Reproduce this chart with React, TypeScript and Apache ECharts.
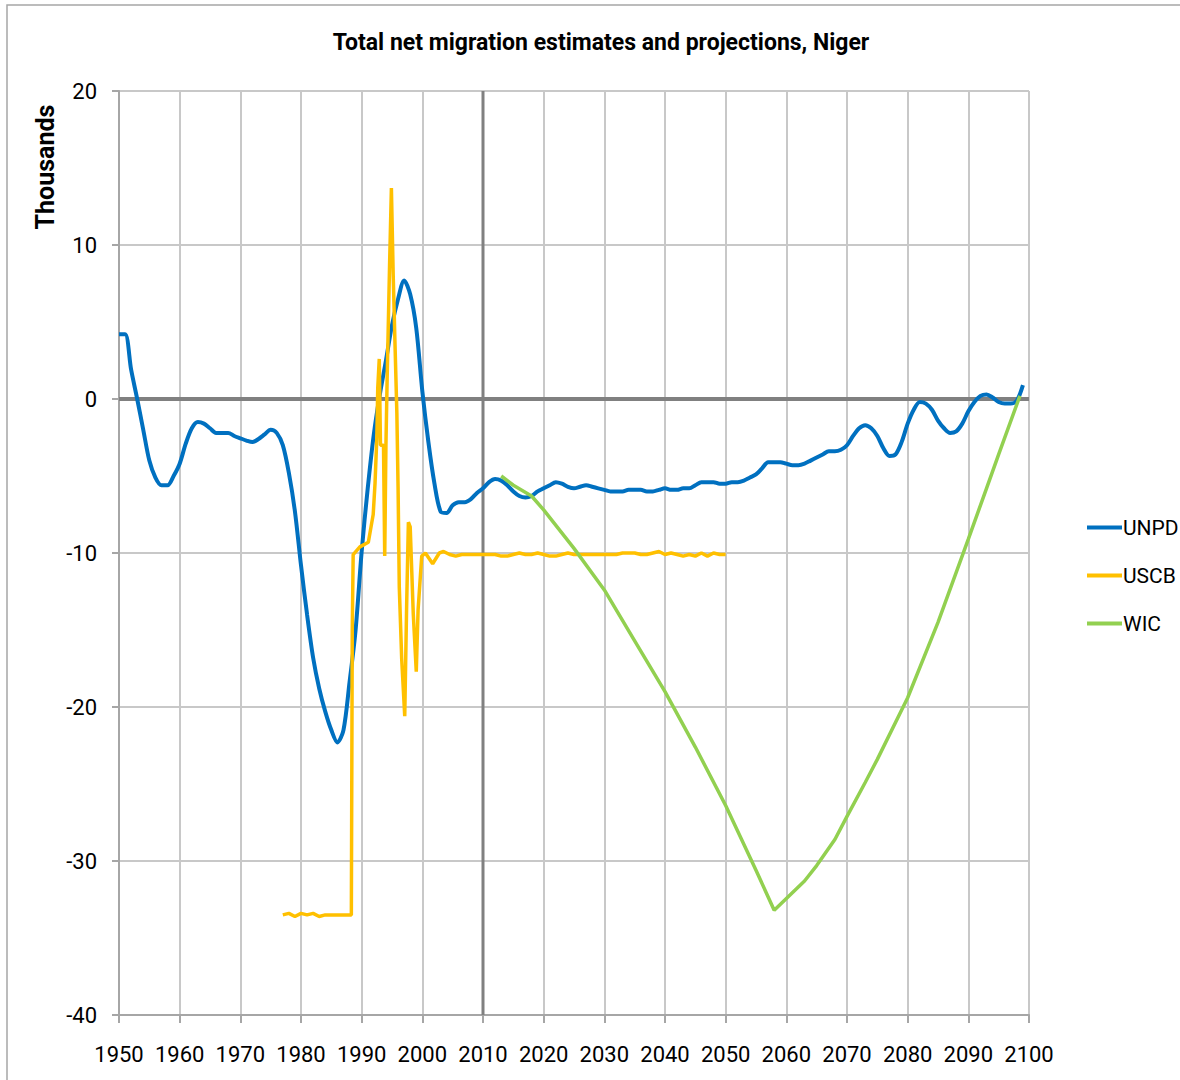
import React, { useEffect, useRef } from "react";
import * as echarts from "echarts";

const TITLE = "Total net migration estimates and projections, Niger";
const Y_NAME = "Thousands";
const SERIES_NAMES = ["UNPD", "USCB", "WIC"];
const COLORS = ["#0070C0", "#FFC000", "#92D050"];

const unpd: [number, number][] = [
  [1950, 4.2], [1951, 4.2], [1952, 1.9], [1953, 0], [1954, -2.0], [1955, -4.0], [1956, -5.1], [1957, -5.6], [1958, -5.6], [1959, -5.0],
  [1960, -4.2], [1961, -2.9], [1962, -1.9], [1963, -1.5], [1964, -1.6], [1965, -1.9], [1966, -2.2], [1967, -2.2], [1968, -2.2], [1969, -2.4],
  [1970, -2.55], [1971, -2.7], [1972, -2.8], [1973, -2.6], [1974, -2.3], [1975, -2.0], [1976, -2.2], [1977, -3.0], [1978, -4.8], [1979, -7.3],
  [1980, -10.8], [1981, -14.0], [1982, -16.8], [1983, -18.8], [1984, -20.3], [1985, -21.5], [1986, -22.3], [1987, -21.5], [1988, -18.4], [1989, -15.0],
  [1990, -9.9], [1991, -5.8], [1992, -2.3], [1993, 0.3], [1994, 2.5], [1995, 4.8], [1996, 6.5], [1997, 7.7], [1998, 6.8], [1999, 4.6],
  [2000, 0.5], [2001, -2.8], [2002, -5.5], [2003, -7.3], [2004, -7.4], [2005, -6.9], [2006, -6.7], [2007, -6.7], [2008, -6.5], [2009, -6.1],
  [2010, -5.8], [2011, -5.4], [2012, -5.2], [2013, -5.3], [2014, -5.6], [2015, -6.0], [2016, -6.3], [2017, -6.4], [2018, -6.3], [2019, -6.0],
  [2020, -5.8], [2021, -5.6], [2022, -5.4], [2023, -5.5], [2024, -5.7], [2025, -5.8], [2026, -5.7], [2027, -5.6], [2028, -5.7], [2029, -5.8],
  [2030, -5.9], [2031, -6.0], [2032, -6.0], [2033, -6.0], [2034, -5.9], [2035, -5.9], [2036, -5.9], [2037, -6.0], [2038, -6.0], [2039, -5.9],
  [2040, -5.8], [2041, -5.9], [2042, -5.9], [2043, -5.8], [2044, -5.8], [2045, -5.6], [2046, -5.4], [2047, -5.4], [2048, -5.4], [2049, -5.5],
  [2050, -5.5], [2051, -5.4], [2052, -5.4], [2053, -5.3], [2054, -5.1], [2055, -4.9], [2056, -4.5], [2057, -4.1], [2058, -4.1], [2059, -4.1],
  [2060, -4.2], [2061, -4.3], [2062, -4.3], [2063, -4.2], [2064, -4.0], [2065, -3.8], [2066, -3.6], [2067, -3.4], [2068, -3.4], [2069, -3.3],
  [2070, -3.0], [2071, -2.4], [2072, -1.9], [2073, -1.7], [2074, -1.9], [2075, -2.4], [2076, -3.2], [2077, -3.7], [2078, -3.6], [2079, -2.8],
  [2080, -1.6], [2081, -0.7], [2082, -0.2], [2083, -0.3], [2084, -0.7], [2085, -1.4], [2086, -1.9], [2087, -2.2], [2088, -2.1], [2089, -1.6],
  [2090, -0.8], [2091, -0.2], [2092, 0.2], [2093, 0.3], [2094, 0.1], [2095, -0.2], [2096, -0.3], [2097, -0.3], [2098, -0.1], [2099, 0.9],
];

const uscb: [number, number][] = [
  [1977, -33.5], [1978, -33.4], [1979, -33.6], [1980, -33.4], [1981, -33.5], [1982, -33.4], [1983, -33.6], [1984, -33.5], [1985, -33.5],
  [1986, -33.5], [1987, -33.5], [1988, -33.5], [1988.3, -33.5], [1988.45, -15.0], [1988.6, -10.1], [1989.7, -9.6], [1991.1, -9.3],
  [1991.9, -7.5], [1992.2, -5.5], [1992.5, -2.5], [1992.65, 0.7], [1992.9, 2.6], [1993.1, -3.0], [1993.6, -3.0],
  [1993.8, -10.2], [1994.0, -3.0], [1994.2, 1.3], [1994.6, 8.7], [1994.9, 13.7], [1995.2, 8.0], [1995.5, 3.5], [1995.8, -0.9],
  [1996.0, -5.7], [1996.2, -12.2], [1996.6, -16.9], [1997.1, -20.6], [1997.4, -13.7], [1997.7, -8.0], [1998.0, -8.3],
  [1998.5, -13.9], [1999.0, -17.7], [1999.3, -13.7], [1999.9, -10.2], [2000.5, -10.0], [2001.7, -10.7], [2002.8, -10.0],
  [2003.5, -9.9], [2004.5, -10.1], [2005.5, -10.2], [2006.5, -10.1], [2007, -10.1], [2008, -10.1], [2009, -10.1],
  [2010, -10.1], [2011, -10.1], [2012, -10.1], [2013, -10.2], [2014, -10.2], [2015, -10.1], [2016, -10.0], [2017, -10.1], [2018, -10.1],
  [2019, -10.0], [2020, -10.1], [2021, -10.2], [2022, -10.2], [2023, -10.1], [2024, -10.0], [2025, -10.1], [2026, -10.1], [2027, -10.1],
  [2028, -10.1], [2029, -10.1], [2030, -10.1], [2031, -10.1], [2032, -10.1], [2033, -10.0], [2034, -10.0], [2035, -10.0], [2036, -10.1],
  [2037, -10.1], [2038, -10.0], [2039, -9.9], [2040, -10.1], [2041, -10.0], [2042, -10.1], [2043, -10.2], [2044, -10.1], [2045, -10.2],
  [2046, -10.0], [2047, -10.2], [2048, -10.0], [2049, -10.1], [2050, -10.1],
];

const wic: [number, number][] = [
  [2013, -5.0], [2015, -5.6], [2018, -6.3], [2020, -7.2], [2025, -9.7], [2030, -12.4], [2035, -15.7], [2040, -19.0], [2045, -22.6],
  [2050, -26.4], [2055, -30.6], [2058, -33.2], [2063, -31.3], [2065, -30.3], [2068, -28.6], [2070, -27.1], [2073, -24.9], [2075, -23.4],
  [2080, -19.4], [2085, -14.5], [2090, -9.1], [2093, -5.8], [2095, -3.6], [2098.5, 0.2],
];

const X_MIN = 1950;
const X_MAX = 2100;
const X_STEP = 10;
const Y_MIN = -40;
const Y_MAX = 20;
const Y_STEP = 10;
const ZERO_LINE: [number, number][] = [[X_MIN, 0], [X_MAX, 0]];
const DIVIDER_LINE: [number, number][] = [[2010, Y_MIN], [2010, Y_MAX]];

const FONT = "Roboto, 'Liberation Sans', sans-serif";

export default function App() {
  const ref = useRef<HTMLDivElement>(null);
  useEffect(() => {
    document.body.style.margin = "0";
    const chart = echarts.init(ref.current!, null, { renderer: "svg" });
    chart.setOption({
      animation: false,
      backgroundColor: "#ffffff",
      grid: { left: 119, top: 91, right: 151, bottom: 65, containLabel: false },
      legend: {
        orient: "vertical",
        left: 1082,
        top: 512,
        itemWidth: 35,
        itemHeight: 4,
        itemGap: 27,
        icon: "rect",
        data: SERIES_NAMES,
        textStyle: { fontFamily: FONT, fontSize: 21, color: "#000", padding: [0, 0, 0, -4] },
      },
      xAxis: {
        type: "value",
        min: X_MIN,
        max: X_MAX,
        interval: X_STEP,
        axisLine: { show: true, onZero: false, lineStyle: { color: "#a6a6a6", width: 2 } },
        axisTick: { show: true, length: 8, lineStyle: { color: "#a6a6a6", width: 2 } },
        axisLabel: { fontFamily: FONT, fontSize: 22, color: "#000", margin: 28, formatter: (v: number) => String(v) },
        splitLine: { show: true, lineStyle: { color: "#c8c8c8", width: 2 } },
      },
      yAxis: {
        type: "value",
        min: Y_MIN,
        max: Y_MAX,
        interval: Y_STEP,
        axisLine: { show: true, onZero: false, lineStyle: { color: "#a6a6a6", width: 2 } },
        axisTick: { show: true, length: 7, lineStyle: { color: "#a6a6a6", width: 2 } },
        axisLabel: { fontFamily: FONT, fontSize: 22, color: "#000", margin: 22 },
        splitLine: { show: true, lineStyle: { color: "#c8c8c8", width: 2 } },
      },
      graphic: [
        {
          type: "rect",
          shape: { x: 7, y: 5, width: 1180, height: 1085 },
          style: { fill: "none", stroke: "#a6a6a6", lineWidth: 1.5 },
          silent: true,
        },
        {
          type: "text",
          x: 601,
          y: 42,
          style: {
            text: TITLE,
            fontFamily: FONT,
            fontWeight: "bold",
            fontSize: 23,
            fill: "#000",
            align: "center",
            verticalAlign: "middle",
          },
        },
        {
          type: "text",
          x: 45,
          y: 167,
          rotation: Math.PI / 2,
          style: {
            text: Y_NAME,
            fontFamily: FONT,
            fontWeight: "bold",
            fontSize: 25,
            fill: "#000",
            align: "center",
            verticalAlign: "middle",
          },
        },
      ],
      series: [
        {
          name: "zero",
          type: "line",
          data: ZERO_LINE,
          showSymbol: false,
          silent: true,
          z: 1,
          lineStyle: { color: "#808080", width: 4 },
        },
        {
          name: "divider",
          type: "line",
          data: DIVIDER_LINE,
          showSymbol: false,
          silent: true,
          z: 1,
          lineStyle: { color: "#808080", width: 3 },
        },
        {
          name: SERIES_NAMES[0],
          type: "line",
          data: unpd,
          showSymbol: false,
          smooth: 0.3,
          color: COLORS[0],
          lineStyle: { width: 4, color: COLORS[0] },
          z: 3,
        },
        {
          name: SERIES_NAMES[1],
          type: "line",
          data: uscb,
          showSymbol: false,
          color: COLORS[1],
          lineStyle: { width: 3.5, color: COLORS[1] },
          z: 4,
        },
        {
          name: SERIES_NAMES[2],
          type: "line",
          data: wic,
          showSymbol: false,
          color: COLORS[2],
          lineStyle: { width: 3.5, color: COLORS[2] },
          z: 5,
        },
      ],
    });
    return () => chart.dispose();
  }, []);
  return <div ref={ref} style={{ width: 1180, height: 1080 }} />;
}
